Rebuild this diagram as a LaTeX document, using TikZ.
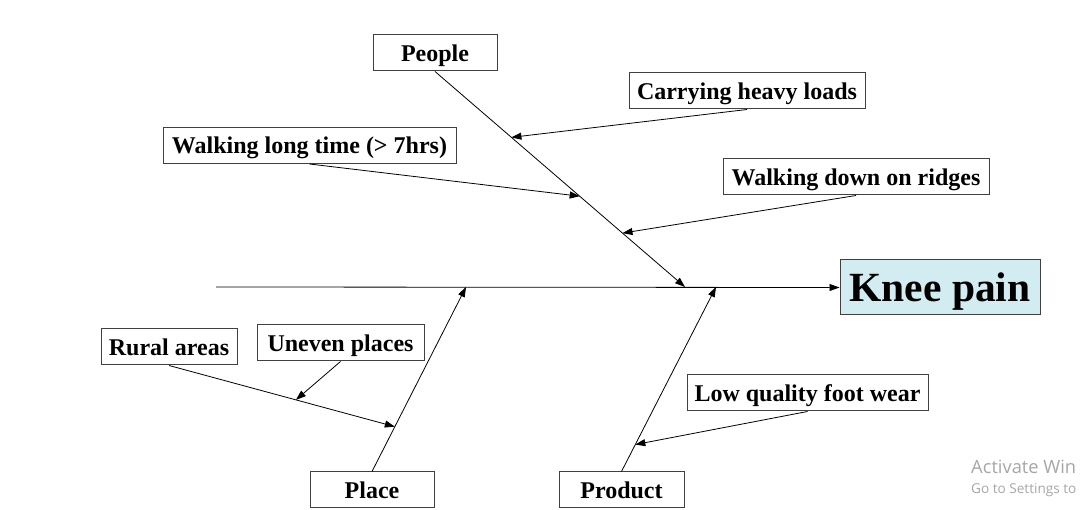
\documentclass[tikz,border=0pt]{standalone}
\usepackage{fontspec}
\setmainfont{Liberation Serif}
\newfontfamily\wmfont{Open Sans}
\usetikzlibrary{arrows.meta,calc}
\definecolor{kneefill}{HTML}{D3ECF2}
\definecolor{wmgray}{HTML}{A6A6A6}
\begin{document}
\begin{tikzpicture}[x=1pt,y=-1pt,
  box/.style={draw=black!75, line width=1pt, fill=white, inner sep=0pt,
    font=\bfseries\fontsize{24}{27}\selectfont, minimum height=36pt,
    text height=17.3pt, text depth=1.2pt},
  arr/.style={-{Triangle[length=10pt,width=7pt]}, line width=0.8pt},
  wm/.style={anchor=base west, inner sep=0pt, text=wmgray}]
\useasboundingbox (0,0) rectangle (1080,510);
\begin{scope}
\clip (0,0) rectangle (1080,510);
% boxes
\node[box, minimum width=124pt] (people) at (435,53) {People};
\node[box, minimum width=236pt] (carry) at (747,91) {Carrying heavy loads};
\node[box, minimum width=293pt] (walklong) at (309.5,145.5) {Walking long time (> 7hrs)};
\node[box, minimum width=266pt] (walkdown) at (856,177) {Walking down on ridges};
\node[box, minimum width=200pt, minimum height=55pt, fill=kneefill,
  font=\bfseries\fontsize{41.5}{46}\selectfont,
  text height=29.9pt, text depth=2.1pt] (knee) at (940,287.5) {Knee pain};
\node[box, minimum width=136pt] (rural) at (169,347) {Rural areas};
\node[box, minimum width=167pt] (uneven) at (340.5,343) {Uneven places};
\node[box, minimum width=241pt] (lowq) at (807.5,393) {Low quality foot wear};
\node[box, minimum width=124pt] (place) at (372,490) {Place};
\node[box, minimum width=125pt] (product) at (621.5,490) {Product};
% spine
\coordinate (spL) at (216,287);
\draw[arr] (spL) -- (knee.west);
% people bone
\coordinate (jpeople) at (685,287);
\draw[arr] (people.south) -- (jpeople);
\coordinate (jcarry) at ($(people.south)!0.3056!(jpeople)$);
\coordinate (jwalklong) at ($(people.south)!0.5787!(jpeople)$);
\coordinate (jwalkdown) at ($(people.south)!0.75!(jpeople)$);
\draw[arr] (carry.south) -- (jcarry);
\draw[arr] (walklong.south) -- (jwalklong);
\draw[arr] (walkdown.south) -- (jwalkdown);
% place bone
\coordinate (jplace) at (466,287);
\draw[arr] (place.north) -- (jplace);
\coordinate (jrural) at ($(place.north)!0.243!(jplace)$);
\draw[arr] (rural.south) -- (jrural);
\coordinate (juneven) at ($(rural.south)!0.562!(jrural)$);
\draw[arr] (uneven.south) -- (juneven);
% product bone
\coordinate (jproduct) at (716,287);
\draw[arr] (product.north) -- (jproduct);
\coordinate (jlowq) at ($(product.north)!0.146!(jproduct)$);
\draw[arr] (lowq.south) -- (jlowq);
% watermark
\node[wm, font=\wmfont\fontsize{18.3}{21}\selectfont] (wm1) at (971,474) {Activate Win};
\node[wm, font=\wmfont\fontsize{13.6}{16}\selectfont] (wm2) at (971,494) {Go to Settings to};
\end{scope}
\end{tikzpicture}
\end{document}
